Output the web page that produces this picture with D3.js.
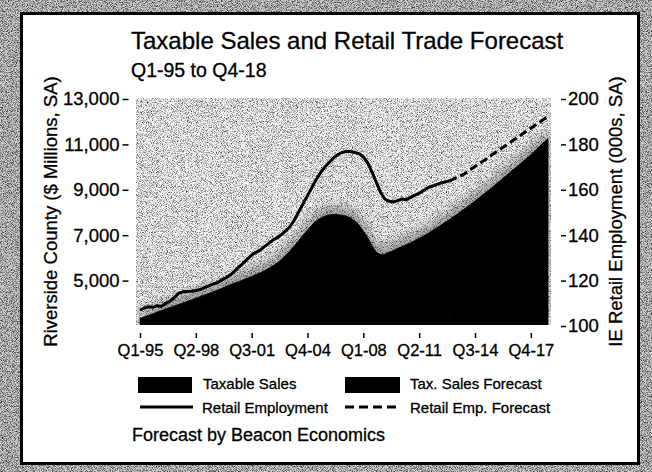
<!DOCTYPE html>
<html>
<head>
<meta charset="utf-8">
<script src="https://cdn.jsdelivr.net/npm/d3@7"></script>
<style>
  body { margin: 0; background: #fff; }
  svg { display: block; font-family: "Liberation Sans", Arial, Helvetica, sans-serif; }
  text { stroke: #000; stroke-width: 0.3px; }
</style>
</head>
<body>
<svg id="chart" width="652" height="472"></svg>
<script>
// quarter labels Q1-95 .. Q4-18
const years = d3.range(1995, 2019);
const quarters = [];
years.forEach(y => { for (let q = 1; q <= 4; q++) quarters.push("Q" + q + "-" + String(y).slice(2)); });

// Riverside County taxable sales, $ millions SA
const taxableSales = [
  3300, 3360, 3430, 3500,   3570, 3640, 3700, 3770,   3840, 3900, 3970, 4040,
  4110, 4180, 4250, 4320,   4390, 4460, 4540, 4610,   4690, 4770, 4840, 4910,
  4990, 5060, 5140, 5220,   5300, 5390, 5500, 5610,   5740, 5900, 6080, 6280,
  6500, 6730, 6960, 7180,   7400, 7580, 7700, 7790,   7850, 7870, 7860, 7840,
  7800, 7720, 7580, 7400,   7150, 6850, 6500, 6200,   6100, 6120, 6200, 6280,
  6380, 6460, 6540, 6620,   6720, 6820, 6920, 7030,   7150, 7270, 7390, 7510,
  7640, 7770, 7900, 8040,   8180, 8320, 8460, 8610,   8760, 8910, 9060, 9220,
  9380, 9540, 9700, 9860,   10020, 10180, 10340, 10500, 10680, 10860, 11040, 11220
];

// IE retail employment, 000s SA
const retailEmployment = [
  106.5, 107.5, 108.0, 107.8,  108.5, 108.2, 109.5, 110.5,  112.0, 114.0, 114.6, 114.8,
  114.9, 115.2, 115.6, 116.5,  117.2, 118.0, 118.6, 119.8,  120.8, 122.0, 123.6, 125.5,
  127.2, 129.0, 130.8, 132.0,  133.0, 134.5, 136.0, 137.5,  138.5, 140.0, 141.5, 143.5,
  146.5, 150.0, 153.5, 157.0,  160.5, 164.0, 167.0, 169.5,  171.5, 173.5, 175.0, 176.0,
  176.5, 176.4, 176.0, 175.5,  174.0, 171.5, 167.5, 163.0,  158.5, 155.5, 154.5, 154.2,
  154.8, 155.5, 155.2, 156.2,  157.2, 158.0, 159.2, 160.5,  161.2, 161.8, 162.5, 163.0,
  163.5, 164.3, 165.2, 166.0,  167.2, 168.5, 169.8, 171.0,  172.3, 173.6, 175.0, 176.3,
  177.6, 178.9, 180.2, 181.5,  182.8, 184.1, 185.4, 186.7,  188.0, 189.3, 190.6, 191.9
];

const forecastStart = "Q1-13";
const xTickLabels = ["Q1-95", "Q2-98", "Q3-01", "Q4-04", "Q1-08", "Q2-11", "Q3-14", "Q4-17"];
const salesTicks = [5000, 7000, 9000, 11000, 13000];
const empTicks = [100, 120, 140, 160, 180, 200];

const svg = d3.select("#chart");
const defs = svg.append("defs");

// halftone-ish grain like the newsprint scan
function grain(id, k, offset) {
  const f = defs.append("filter").attr("id", id)
    .attr("x", 0).attr("y", 0).attr("width", 1).attr("height", 1)
    .attr("color-interpolation-filters", "sRGB");
  f.append("feTurbulence").attr("type", "fractalNoise")
    .attr("baseFrequency", 1.2).attr("numOctaves", 1).attr("seed", 7);
  f.append("feColorMatrix").attr("type", "matrix")
    .attr("values", "0 0 0 0 0  0 0 0 0 0  0 0 0 0 0  " + k + " 0 0 0 " + offset);
}
grain("grainLight", 2.2, -1.0);
grain("grainDark", 2.2, -0.9);
defs.append("filter").attr("id", "soft").attr("x", "-10%").attr("y", "-20%")
  .attr("width", "120%").attr("height", "140%")
  .append("feGaussianBlur").attr("stdDeviation", 5);

const plot = { left: 136, right: 551, top: 98, bottom: 325 };
defs.append("clipPath").attr("id", "plotClip").append("rect")
  .attr("x", plot.left).attr("y", plot.top)
  .attr("width", plot.right - plot.left).attr("height", plot.bottom - plot.top);

// frame
svg.append("rect").attr("width", 652).attr("height", 472).attr("fill", "#d0d0d0");
svg.append("rect").attr("width", 652).attr("height", 472).attr("filter", "url(#grainDark)");
svg.append("rect").attr("x", 21.5).attr("y", 13.5).attr("width", 617).attr("height", 450)
  .attr("fill", "#fff").attr("stroke", "#000").attr("stroke-width", 3);

const x = d3.scalePoint().domain(quarters).range([140, 548]);
const ySales = d3.scaleLinear().domain([3000, 13000]).range([plot.bottom, plot.top]);
const yEmp = d3.scaleLinear().domain([100, 200]).range([plot.bottom, plot.top]);

const rows = quarters.map((q, i) => ({ q: q, sales: taxableSales[i], emp: retailEmployment[i] }));
const fi = quarters.indexOf(forecastStart);
const actual = rows.slice(0, fi + 1);
const forecast = rows.slice(fi);

// plot background
svg.append("rect").attr("x", plot.left).attr("y", plot.top)
  .attr("width", plot.right - plot.left).attr("height", plot.bottom - plot.top)
  .attr("fill", "#f4f4f4");
svg.append("rect").attr("x", plot.left).attr("y", plot.top)
  .attr("width", plot.right - plot.left).attr("height", plot.bottom - plot.top)
  .attr("filter", "url(#grainLight)");

const area = d3.area()
  .x(d => x(d.q))
  .y0(ySales(3000))
  .y1(d => ySales(d.sales));

const g = svg.append("g").attr("clip-path", "url(#plotClip)");
// darker fringe above the sales area
g.append("path").datum(rows)
  .attr("d", area)
  .attr("transform", "translate(0,-9)")
  .attr("fill", "#000").attr("opacity", 0.3)
  .attr("filter", "url(#soft)");

g.append("path").datum(actual).attr("d", area)
  .attr("fill", "#000").attr("stroke", "#000").attr("stroke-width", 0.8);
g.append("path").datum(forecast).attr("d", area)
  .attr("fill", "#000").attr("stroke", "#000").attr("stroke-width", 0.8);

const line = d3.line().x(d => x(d.q)).y(d => yEmp(d.emp));
svg.append("path").datum(actual).attr("d", line)
  .attr("fill", "none").attr("stroke", "#000").attr("stroke-width", 3)
  .attr("stroke-linejoin", "round");
svg.append("path").datum(forecast).attr("d", line)
  .attr("fill", "none").attr("stroke", "#000").attr("stroke-width", 3)
  .attr("stroke-dasharray", "8,4");

// axes
function styleAxis(sel, size) {
  sel.select(".domain").remove();
  sel.selectAll(".tick line").attr("stroke", "#000").attr("stroke-width", 1.5);
  sel.selectAll(".tick text").attr("fill", "#000").style("font-size", size + "px");
  sel.attr("font-family", null);
}

svg.append("g").attr("transform", "translate(128.5,1)")
  .call(d3.axisLeft(ySales).tickValues(salesTicks).tickSize(6).tickPadding(3)
    .tickFormat(d3.format(",")))
  .call(styleAxis, 18.5);

svg.append("g").attr("transform", "translate(561,1)")
  .call(d3.axisRight(yEmp).tickValues(empTicks).tickSize(5).tickPadding(2))
  .call(styleAxis, 18.5);

svg.append("g").attr("transform", "translate(0,333)")
  .call(d3.axisBottom(x).tickValues(xTickLabels).tickSize(5).tickPadding(6))
  .call(styleAxis, 16.5);

// titles
svg.append("text").attr("x", 131).attr("y", 49)
  .style("font-size", "24px").text("Taxable Sales and Retail Trade Forecast");
svg.append("text").attr("x", 131).attr("y", 77)
  .style("font-size", "19.5px").text("Q1-95 to Q4-18");

const midY = (plot.top + plot.bottom) / 2;
svg.append("text").attr("transform", "translate(57," + midY + ") rotate(-90)")
  .attr("text-anchor", "middle").style("font-size", "18.5px")
  .text("Riverside County ($ Millions, SA)");
svg.append("text").attr("transform", "translate(622," + midY + ") rotate(-90)")
  .attr("text-anchor", "middle").style("font-size", "18.5px")
  .text("IE Retail Employment (000s, SA)");

// legend
const legend = svg.append("g").style("font-size", "15px");
legend.append("rect").attr("x", 138).attr("y", 377).attr("width", 54).attr("height", 16).attr("fill", "#000");
legend.append("text").attr("x", 203).attr("y", 389).text("Taxable Sales");
legend.append("rect").attr("x", 345).attr("y", 377).attr("width", 55).attr("height", 16).attr("fill", "#000");
legend.append("text").attr("x", 410).attr("y", 389).text("Tax. Sales Forecast");
legend.append("line").attr("x1", 140).attr("x2", 193).attr("y1", 407).attr("y2", 407)
  .attr("stroke", "#000").attr("stroke-width", 3);
legend.append("text").attr("x", 202).attr("y", 413).text("Retail Employment");
legend.append("line").attr("x1", 345).attr("x2", 400).attr("y1", 407).attr("y2", 407)
  .attr("stroke", "#000").attr("stroke-width", 3).attr("stroke-dasharray", "9,5");
legend.append("text").attr("x", 410).attr("y", 413).text("Retail Emp. Forecast");

svg.append("text").attr("x", 132).attr("y", 441).style("font-size", "18px")
  .text("Forecast by Beacon Economics");
</script>
</body>
</html>
